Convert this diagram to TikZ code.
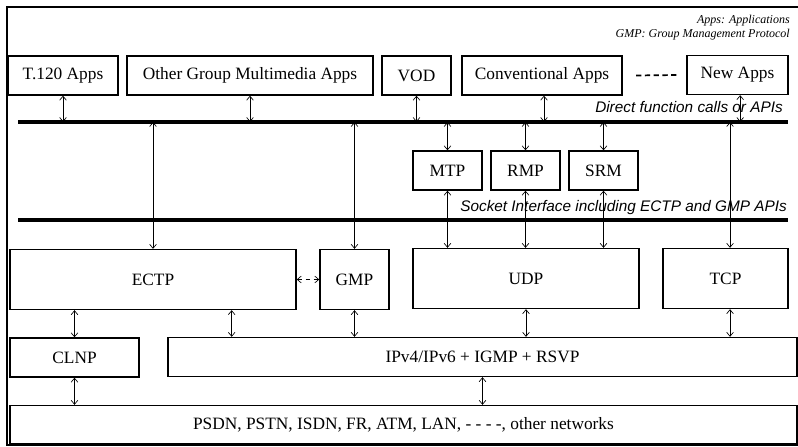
\documentclass[tikz,border=0pt]{standalone}
\usepackage{fontspec}
\setmainfont{Liberation Serif}
\setsansfont{Liberation Sans}
\usetikzlibrary{arrows.meta, positioning, calc}

\begin{document}
\begin{tikzpicture}[
  x=0.75pt, y=-0.75pt,
  block/.style = {draw, line width=1pt, minimum height=29.25pt, inner sep=2pt, align=center,
                  font=\fontsize{13}{15}\selectfont},
  tall/.style = {block, minimum height=45pt},
  arrow/.style = {line width=0.5pt, {Straight Barb[length=3pt,width=5pt]}-{Straight Barb[length=3pt,width=5pt]}},
  bus/.style = {line width=2.6pt},
  buslabel/.style = {inner sep=0pt, font=\fontsize{11.5}{13}\selectfont\sffamily\itshape},
  note/.style = {inner sep=0pt, align=right, font=\fontsize{9}{10.5}\selectfont\itshape}
]
\useasboundingbox (0,0) rectangle (798,446);

% Frame
\draw[line width=1pt] (798,7) -| (7,445) -- (798,445);

% Notes
\node[note, anchor=north east] (notes) at (790,15) {Apps: Applications\\GMP: Group Management Protocol};

% Application blocks
\node[block, minimum width=82.5pt] (tapps) at (63,75.5) {T.120 Apps};
\node[block, minimum width=184.5pt] (others) at (250,75.5) {Other Group Multimedia Apps};
\node[block, minimum width=51.75pt] (vod) at (416.5,75.5) {VOD};
\node[block, minimum width=120pt] (conv) at (542,75.5) {Conventional Apps};
\node[block, minimum width=75.75pt] (newapps) at (737.5,75) {New Apps};
\draw[line width=1.3pt, dash pattern=on 4pt off 2.6pt] ([xshift=10pt]conv.east) -- ([xshift=-7.5pt]newapps.west);

% Direct function calls bus
\coordinate (apiw) at (18,122);
\coordinate (apie) at (788,122);
\draw[bus] (apiw) -- (apie);
\node[buslabel, anchor=base east] (apilabel) at (783,112) {Direct function calls or APIs};

% Multicast transport blocks
\node[block, minimum width=51.75pt] (mtp) at (447.5,170.5) {MTP};
\node[block, minimum width=51.75pt] (rmp) at (525.5,170.5) {RMP};
\node[block, minimum width=51.75pt] (srm) at (603.5,170.5) {SRM};

% Socket bus
\coordinate (sockw) at (18,220);
\coordinate (socke) at (788,220);
\draw[bus] (sockw) -- (socke);
\node[buslabel, anchor=base east] (socklabel) at (787,211.5) {Socket Interface including ECTP and GMP APIs};

% Transport blocks
\node[tall, minimum width=214.5pt] (ectp) at (153,279.5) {ECTP};
\node[tall, minimum width=51.75pt] (gmp) at (354.5,279.5) {GMP};
\node[tall, minimum width=169.5pt] (udp) at (526,278.5) {UDP};
\node[tall, minimum width=93.75pt] (tcp) at (725.5,278.5) {TCP};

% Network blocks
\node[block, minimum width=96.75pt] (clnp) at (74.5,357.5) {CLNP};
\node[block, minimum width=471.75pt] (ipnet) at (482.5,357) {IPv4/IPv6 + IGMP + RSVP};
\node[block, minimum width=590.25pt, minimum height=28.5pt] (psdn) at (403.5,424.5)
  {PSDN, PSTN, ISDN, FR, ATM, LAN, - - - -, other networks};

% Apps to direct bus
\draw[arrow] (tapps.south) -- (tapps.south |- apiw);
\draw[arrow] (others.south) -- (others.south |- apiw);
\draw[arrow] (vod.south) -- (vod.south |- apiw);
\draw[arrow] ([xshift=1.5pt]conv.south) -- ([xshift=1.5pt]conv.south |- apiw);
\draw[arrow] ([xshift=2pt]newapps.south) -- ([xshift=2pt]newapps.south |- apiw);

% Direct bus to transports
\draw[arrow] (mtp.north |- apiw) -- (mtp.north);
\draw[arrow] (rmp.north |- apiw) -- (rmp.north);
\draw[arrow] (srm.north |- apiw) -- (srm.north);
\draw[arrow] (ectp.north |- apiw) -- (ectp.north);
\draw[arrow] (gmp.north |- apiw) -- (gmp.north);
\draw[arrow] ([xshift=3.4pt]tcp.north |- apiw) -- ([xshift=3.4pt]tcp.north);

% Multicast transports to UDP
\draw[arrow] (mtp.south) -- (mtp.south |- udp.north);
\draw[arrow] (rmp.south) -- (rmp.south |- udp.north);
\draw[arrow] (srm.south) -- (srm.south |- udp.north);

% ECTP and GMP
\draw[arrow, dashed] (ectp.east |- gmp.west) -- (gmp.west);

% Transports to network layer
\draw[arrow] (ectp.south -| clnp.north) -- (clnp.north);
\draw[arrow] ([xshift=59pt]ectp.south) -- ([xshift=59pt]ectp.south |- ipnet.north);
\draw[arrow] (gmp.south) -- (gmp.south |- ipnet.north);
\draw[arrow] (udp.south) -- (udp.south |- ipnet.north);
\draw[arrow] ([xshift=3.4pt]tcp.south) -- ([xshift=3.4pt]tcp.south |- ipnet.north);

% Network layer to subnetworks
\draw[arrow] (clnp.south) -- (clnp.south |- psdn.north);
\draw[arrow] (ipnet.south) -- (ipnet.south |- psdn.north);

\end{tikzpicture}
\end{document}
